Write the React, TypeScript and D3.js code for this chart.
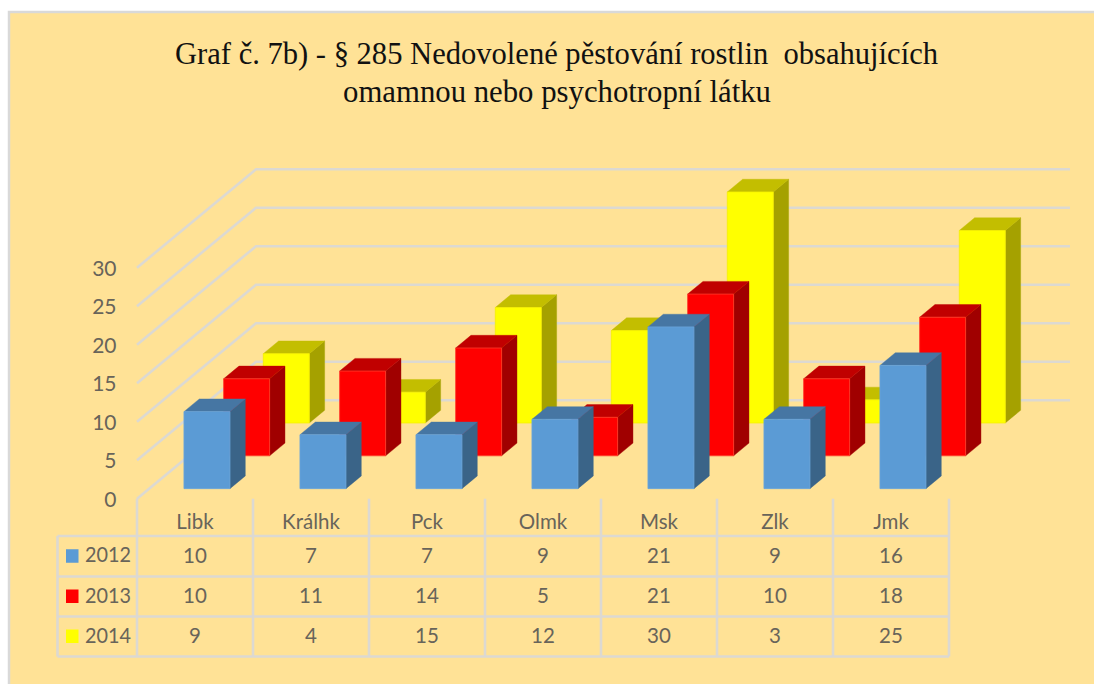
import React from 'react';
import * as d3 from 'd3';

const categories = ['Libk', 'Králhk', 'Pck', 'Olmk', 'Msk', 'Zlk', 'Jmk'];
const years = ['2012', '2013', '2014'];
const values2012 = [10, 7, 7, 9, 21, 9, 16];
const values2013 = [10, 11, 14, 5, 21, 10, 18];
const values2014 = [9, 4, 15, 12, 30, 3, 25];
const seriesValues = [values2012, values2013, values2014];
const yTicks = [0, 5, 10, 15, 20, 25, 30];
const titleLines = [
  'Graf č. 7b) - § 285 Nedovolené pěstování rostlin  obsahujících',
  'omamnou nebo psychotropní látku',
];

const colors = [
  { front: '#5b9bd5', top: '#4676a3', side: '#3a6488', edge: '#6aa5da' },
  { front: '#ff0000', top: '#c00000', side: '#a00000', edge: '#ff3a2a' },
  { front: '#ffff00', top: '#c3be00', side: '#a5a100', edge: '#f5f000' },
];

const width = 1094;
const height = 684;
const gridColor = '#dcd9d2';
const textColor = '#68645a';
const labelFont = 'Lato, "Open Sans", sans-serif';

const x = d3.scaleBand<string>().domain(categories).range([137, 949]).paddingInner(0.6).paddingOuter(0.3);
const y = d3.scaleLinear().domain([0, 30]).range([498.7, 267.7]);
const z = d3.scaleBand<string>().domain(years).range([0, 1]).paddingInner(0.613).paddingOuter(0.3065);

// oblique projection, depth goes up and to the right
const depthX = 119;
const depthY = -98.5;
const wallRight = 1070;
const tableRows = [536, 576.5, 616.5, 656.5];
const tableLeft = 57.5;

const project = (px: number, v: number, d: number): [number, number] => [px + d * depthX, y(v) + d * depthY];
const poly = d3.line().curve(d3.curveLinearClosed);

function Bar({ cat, year, value, c }: any) {
  const x0 = x(cat)!;
  const x1 = x0 + x.bandwidth() - 0.4;
  const d0 = z(year)!;
  const d1 = d0 + z.bandwidth();
  const front = [project(x0, 0, d0), project(x1, 0, d0), project(x1, value, d0), project(x0, value, d0)];
  const side = [project(x1, 0, d0), project(x1, 0, d1), project(x1, value, d1), project(x1, value, d0)];
  const top = [project(x0, value, d0), project(x1, value, d0), project(x1, value, d1), project(x0, value, d1)];
  return (
    <g strokeLinejoin="round">
      <path d={poly(side as any)!} fill={c.side} stroke={c.side} strokeWidth={0.4} />
      <path d={poly(top as any)!} fill={c.top} stroke={c.top} strokeWidth={0.4} />
      <path d={poly(front as any)!} fill={c.front} stroke={c.edge} strokeWidth={0.8} />
    </g>
  );
}

export default function App() {
  const step = x.step();
  const colEdges = d3.range(categories.length + 1).map(i => 137 + i * step);
  const cellCenter = (cat: string) => x(cat)! + x.bandwidth() / 2;
  const rowCenter = (i: number) => (tableRows[i] + tableRows[i + 1]) / 2;

  return (
    <svg width={width} height={height} style={{ position: 'absolute', left: 0, top: 0, display: 'block' }}>
      <rect width={width} height={height} fill="#ffffff" />
      <rect x={9} y={12} width={width} height={height} fill="#ffe296" stroke="#d9d9d9" strokeWidth={2.5} />

      <g fontFamily='"Liberation Serif", "Times New Roman", serif' fontSize={31} fill="#111111" textAnchor="middle">
        <text x={556.5} y={64} textLength={763} lengthAdjust="spacingAndGlyphs" xmlSpace="preserve">{titleLines[0]}</text>
        <text x={557} y={102} textLength={428} lengthAdjust="spacingAndGlyphs">{titleLines[1]}</text>
      </g>

      {/* walls */}
      <g fill="none" stroke={gridColor} strokeWidth={2.6}>
        {yTicks.map(t => {
          const a = project(137, t, 0);
          const b = project(137, t, 1);
          return <path key={t} d={`M${a[0]},${a[1]}L${b[0]},${b[1]}L${wallRight},${b[1]}`} />;
        })}
      </g>

      {/* back series first so the nearer ones cover them */}
      {[2, 1, 0].map(s => (
        <g key={years[s]}>
          {categories.map((cat, i) => (
            <Bar key={cat} cat={cat} year={years[s]} value={seriesValues[s][i]} c={colors[s]} />
          ))}
        </g>
      ))}

      <g fontFamily={labelFont} fontSize={21} fill={textColor} textAnchor="end">
        {yTicks.map(t => (
          <text key={t} x={116.5} y={y(t) + 0.5} dy="0.35em">{t}</text>
        ))}
      </g>

      {/* data table */}
      <g stroke={gridColor} strokeWidth={2.6} fill="none">
        {tableRows.map(r => (
          <line key={r} x1={tableLeft} x2={colEdges[colEdges.length - 1]} y1={r} y2={r} />
        ))}
        <line x1={tableLeft} x2={tableLeft} y1={tableRows[0]} y2={tableRows[3]} />
        {colEdges.map(e => (
          <line key={e} x1={e} x2={e} y1={y(0)} y2={tableRows[3]} />
        ))}
      </g>

      <g fontFamily={labelFont} fontSize={20.5} fill={textColor}>
        {categories.map(cat => (
          <text key={cat} x={cellCenter(cat)} y={529} textAnchor="middle">{cat}</text>
        ))}
        {years.map((yr, s) => (
          <g key={yr}>
            <rect x={66} y={rowCenter(s) - 7} width={12.5} height={13.5} fill={colors[s].front} />
            <text x={85} y={rowCenter(s) - 1} dy="0.35em" textLength={46} lengthAdjust="spacingAndGlyphs">{yr}</text>
            {categories.map((cat, i) => (
              <text key={cat} x={cellCenter(cat)} y={rowCenter(s) - 0.5} dy="0.36em" textAnchor="middle">
                {seriesValues[s][i]}
              </text>
            ))}
          </g>
        ))}
      </g>
    </svg>
  );
}
